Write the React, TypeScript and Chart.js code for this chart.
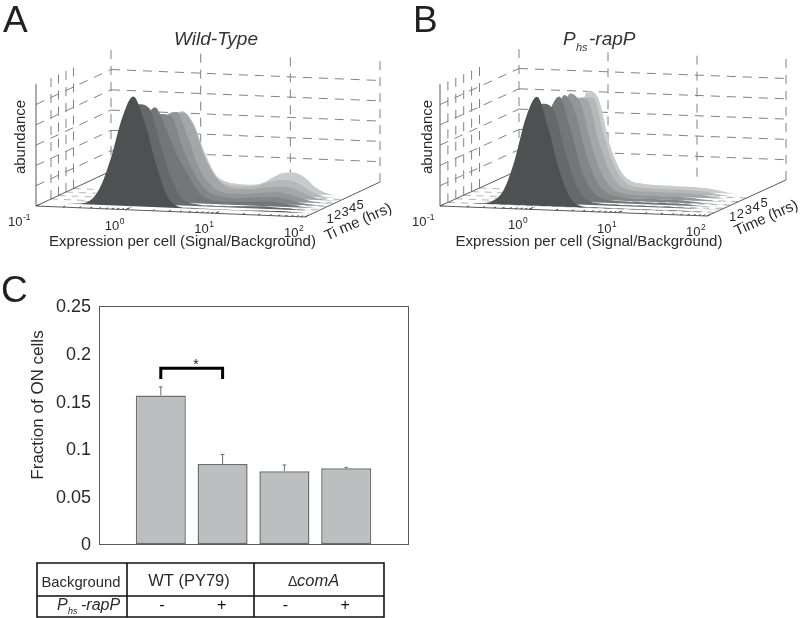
import React, { useEffect, useRef } from "react";
import { Chart, registerables } from "chart.js";

Chart.register(...registerables);

// ---- distributions: abundance at each log10(expression) ----
const LOG_E = [-0.75, -0.625, -0.5, -0.375, -0.25, -0.125, 0, 0.125, 0.25, 0.375, 0.5, 0.625, 0.75, 0.875, 1, 1.125, 1.25, 1.375, 1.5, 1.625, 1.75, 1.875, 2];

const A1 = [0, 0.02, 0.13, 0.8, 2.3, 4.3, 5.4, 4.2, 2.2, 0.6, 0.08, 0.03, 0.02, 0.02, 0.02, 0.02, 0.03, 0.04, 0.05, 0.05, 0.04, 0.02, 0];
const A2 = [0, 0.01, 0.07, 0.5, 1.6, 3.3, 4.9, 4.7, 2.9, 1.2, 0.3, 0.1, 0.05, 0.05, 0.06, 0.08, 0.1, 0.12, 0.1, 0.08, 0.04, 0.01, 0];
const A3 = [0, 0, 0.03, 0.2, 0.9, 2.2, 3.8, 4.65, 3.6, 2.3, 1.35, 0.5, 0.2, 0.15, 0.15, 0.17, 0.2, 0.22, 0.2, 0.13, 0.06, 0.02, 0];
const A4 = [0, 0, 0.01, 0.1, 0.5, 1.5, 3, 4.2, 4.1, 2.6, 1.4, 0.6, 0.3, 0.22, 0.22, 0.25, 0.3, 0.33, 0.3, 0.18, 0.07, 0.02, 0];
const A5 = [0, 0, 0, 0.05, 0.3, 1, 2.4, 3.9, 4.2, 3, 1.5, 0.7, 0.35, 0.3, 0.3, 0.36, 0.42, 0.45, 0.38, 0.22, 0.08, 0.02, 0];
const A6 = [0, 0, 0, 0.04, 0.2, 0.7, 2, 3.6, 4.05, 3.4, 1.9, 0.9, 0.45, 0.38, 0.38, 0.48, 0.55, 0.58, 0.48, 0.25, 0.08, 0.02, 0];
const A7 = [0, 0, 0, 0.03, 0.25, 1.1, 2.7, 3.8, 3.7, 2.5, 1.1, 0.55, 0.4, 0.38, 0.42, 0.6, 0.75, 0.78, 0.6, 0.28, 0.08, 0.01, 0];
const A8 = [0, 0, 0, 0.05, 0.3, 1.5, 3.2, 3.85, 3.3, 1.9, 0.8, 0.45, 0.37, 0.35, 0.42, 0.72, 1, 1.05, 0.8, 0.33, 0.08, 0, 0];

const B1 = [0, 0.03, 0.15, 0.7, 2.2, 4.3, 5.37, 3.9, 1.8, 0.45, 0.06, 0.03, 0.02, 0.02, 0.02, 0.02, 0.02, 0.02, 0.02, 0.02, 0.01, 0, 0];
const B2 = [0, 0.01, 0.08, 0.4, 1.4, 3.2, 4.9, 4.6, 2.7, 1, 0.25, 0.1, 0.07, 0.06, 0.06, 0.06, 0.06, 0.06, 0.05, 0.04, 0.02, 0, 0];
const B3 = [0, 0, 0.04, 0.2, 0.9, 2.4, 4.2, 5.15, 3.6, 1.6, 0.55, 0.2, 0.12, 0.1, 0.1, 0.1, 0.1, 0.1, 0.09, 0.06, 0.02, 0, 0];
const B4 = [0, 0, 0.02, 0.12, 0.6, 1.8, 3.7, 5.1, 4.2, 2.1, 0.8, 0.3, 0.17, 0.14, 0.14, 0.14, 0.14, 0.13, 0.11, 0.07, 0.02, 0, 0];
const B5 = [0, 0, 0, 0.08, 0.4, 1.4, 3.2, 5.05, 4.5, 2.4, 1, 0.38, 0.2, 0.18, 0.17, 0.17, 0.17, 0.16, 0.13, 0.08, 0.02, 0, 0];
const B6 = [0, 0, 0, 0.05, 0.3, 1.1, 2.8, 4.7, 4.6, 2.6, 1.1, 0.42, 0.24, 0.21, 0.2, 0.2, 0.2, 0.19, 0.16, 0.09, 0.02, 0, 0];
const B7 = [0, 0, 0, 0.03, 0.22, 0.9, 2.5, 4.6, 4.6, 2.7, 1.15, 0.45, 0.27, 0.24, 0.23, 0.23, 0.22, 0.21, 0.18, 0.1, 0.02, 0, 0];
const B8 = [0, 0, 0, 0.02, 0.15, 0.7, 2.3, 4.8, 4.4, 2.2, 0.9, 0.42, 0.32, 0.28, 0.27, 0.26, 0.25, 0.24, 0.2, 0.11, 0.02, 0, 0];

const SLICE_HOURS = [1, 1.7, 2.4, 3.1, 3.8, 4.6, 5.3, 6];
const SLICE_COLORS = ["#4f5052", "#66686a", "#737577", "#838587", "#939597", "#a4a6a8", "#b5b7b9", "#c9cacc"];

// ---- axes of the 3D panels ----
const X_TICKS = [-1, 0, 1, 2];
const X_MINOR = [2, 3, 4, 5, 6, 7, 8, 9];
const FLOOR_X = [0];
const Z_LEVELS = [1, 2, 3, 4, 5];
const Z_TOP = 6;
const T_MAX = 10;
const TIME_LABELS = [1, 2, 3, 4, 5];
const WALL_HOURS_A = [2, 3, 4, 5];
const WALL_HOURS_B = [1, 2, 3, 4, 5];

// ---- bars ----
const BAR_X = [1, 2, 3, 4];
const BAR_VALUES = [0.156, 0.084, 0.0765, 0.0795];
const BAR_ERR_TOPS = [0.165, 0.094, 0.083, 0.0805];
const BRACKET_X = [1, 2];
const BRACKET_Y = [0.1734, 0.1846];
const BG_ROW = ["WT (PY79)"];
const RAP_SIGNS = ["-", "+", "-", "+"];

const INK = "#2b2a2b";
const FONT = '"Liberation Sans", Arial, sans-serif';

type Panel = {
  ox: number; oy: number; dec: number; slope: number; zu: number; tx: number; ty: number; w: number; h: number;
  slices: number[][]; wall: number[];
  draw: (ctx: CanvasRenderingContext2D, chart: any, at: (l: number, t: number, a: number) => [number, number]) => void;
};

function text(ctx: CanvasRenderingContext2D, s: string, x: number, y: number, font: string, align: CanvasTextAlign = "left", color = INK) {
  ctx.font = font;
  ctx.textAlign = align;
  ctx.fillStyle = color;
  ctx.textBaseline = "alphabetic";
  ctx.fillText(s, x, y);
}

function rotText(ctx: CanvasRenderingContext2D, s: string, x: number, y: number, deg: number, font: string) {
  ctx.save();
  ctx.translate(x, y);
  ctx.rotate((deg * Math.PI) / 180);
  text(ctx, s, 0, 0, font, "center");
  ctx.restore();
}

function build3D(canvas: HTMLCanvasElement, p: Panel) {
  // projected units: horizontal in decades, vertical in abundance units
  const tx = p.tx / T_MAX / p.dec;
  const ty = p.ty / T_MAX / p.zu;
  const sl = p.slope / p.zu;
  const pt = (l: number, t: number, a: number) => ({ x: l + t * tx, y: a - (l + 1) * sl + t * ty });
  const seg = (list: [number, number, number][][]) => {
    const out: any[] = [];
    list.forEach((s) => {
      s.forEach((q) => out.push(pt(q[0], q[1], q[2])));
      out.push({ x: null, y: null });
    });
    return out;
  };
  const dashedWall: [number, number, number][][] = [];
  X_TICKS.forEach((l) => dashedWall.push([[l, T_MAX, 0], [l, T_MAX, Z_TOP]]));
  Z_LEVELS.forEach((z) => dashedWall.push([[-1, T_MAX, z], [2, T_MAX, z]]));
  Z_LEVELS.forEach((z) => dashedWall.push([[-1, 0, z], [-1, T_MAX, z]]));
  p.wall.forEach((t) => dashedWall.push([[-1, t, 0], [-1, t, Z_TOP]]));
  const floor: [number, number, number][][] = [];
  p.wall.forEach((t) => floor.push([[-1, t, 0], [2, t, 0]]));
  FLOOR_X.forEach((l) => floor.push([[l, 0, 0], [l, T_MAX, 0]]));
  const solid: [number, number, number][][] = [
    [[-1, 0, 0], [2, 0, 0]],
    [[2, 0, 0], [2, T_MAX, 0]],
    [[-1, 0, 0], [-1, 0, Z_TOP]],
    [[-1, 0, 0], [-1, T_MAX, 0]],
  ];
  const ticks: [number, number, number][][] = [];
  [-1, 0, 1].forEach((d) => {
    ticks.push([[d, 0, 0], [d, 0.5, 0]]);
    X_MINOR.forEach((m) => {
      const l = d + Math.log10(m);
      ticks.push([[l, 0, 0], [l, 0.3, 0]]);
    });
  });
  ticks.push([[2, 0, 0], [2, 0.5, 0]]);
  const line = (data: any[], color: string, width: number, dash: number[] = []) => ({
    data, showLine: true, borderColor: color, borderWidth: width, borderDash: dash, pointRadius: 0, fill: false,
  });
  const xMin = -1 - p.ox / p.dec;
  const yMax = p.oy / p.zu;
  const chart = new Chart(canvas, {
    type: "scatter",
    data: {
      datasets: [
        line(seg(solid), "#5a5a5c", 1),
        line(seg(ticks), "#3a3a3c", 1),
        ...p.slices.map((vals, i) => ({
          data: vals.map((a, k) => pt(LOG_E[k], SLICE_HOURS[i], a)),
          showLine: true,
          borderWidth: 0,
          pointRadius: 0,
          cubicInterpolationMode: "monotone",
          backgroundColor: SLICE_COLORS[i],
          fill: "shape",
        })),
        line(seg(floor), "#b5b6b8", 1, [7, 6]),
        line(seg(dashedWall), "#808183", 1, [9, 7]),
      ],
    } as any,
    options: {
      responsive: false,
      animation: false,
      layout: { padding: 0 },
      plugins: { legend: { display: false }, tooltip: { enabled: false } },
      scales: {
        x: { type: "linear", display: false, min: xMin, max: xMin + p.w / p.dec },
        y: { type: "linear", display: false, max: yMax, min: yMax - p.h / p.zu },
      },
    },
    plugins: [
      {
        id: "labels3d",
        afterDraw(c: any) {
          const at = (l: number, t: number, a: number): [number, number] => {
            const q = pt(l, t, a);
            return [c.scales.x.getPixelForValue(q.x), c.scales.y.getPixelForValue(q.y)];
          };
          const ctx = c.ctx;
          ctx.save();
          X_TICKS.forEach((l) => {
            const [x, y] = at(l, 0, 0);
            const lx = x + (l === -1 ? -28 : -21);
            const ly = y + 20;
            text(ctx, "10", lx, ly, `13px ${FONT}`);
            const w = ctx.measureText("10").width;
            text(ctx, String(l), lx + w + 0.5, ly - 6, `8.5px ${FONT}`);
          });
          TIME_LABELS.forEach((t) => {
            const [x, y] = at(2, t, 0);
            text(ctx, String(t), x + 14, y + 9, `13px ${FONT}`);
          });
          p.draw(ctx, c, at);
          ctx.restore();
        },
      },
    ],
  });
  return chart;
}

function buildBars(canvas: HTMLCanvasElement) {
  const errs: any[] = [];
  BAR_X.forEach((x, i) => {
    errs.push({ x, y: BAR_VALUES[i] }, { x, y: BAR_ERR_TOPS[i] }, { x: null, y: null });
    errs.push({ x: x - 0.03, y: BAR_ERR_TOPS[i] }, { x: x + 0.03, y: BAR_ERR_TOPS[i] }, { x: null, y: null });
  });
  return new Chart(canvas, {
    data: {
      datasets: [
        {
          type: "line",
          data: [
            { x: BRACKET_X[0], y: BRACKET_Y[0] },
            { x: BRACKET_X[0], y: BRACKET_Y[1] },
            { x: BRACKET_X[1], y: BRACKET_Y[1] },
            { x: BRACKET_X[1], y: BRACKET_Y[0] },
          ],
          borderColor: "#000",
          borderWidth: 3,
          pointRadius: 0,
          tension: 0,
          borderJoinStyle: "miter",
        },
        { type: "line", data: errs, borderColor: "#6a6b6d", borderWidth: 1, pointRadius: 0, tension: 0 },
        {
          type: "bar",
          data: BAR_X.map((x, i) => ({ x, y: BAR_VALUES[i] })),
          backgroundColor: "#bcbec0",
          borderColor: "#6d6e70",
          borderWidth: 1.5,
          borderSkipped: false,
          barPercentage: 0.81,
          categoryPercentage: 1,
        },
      ],
    } as any,
    options: {
      responsive: false,
      animation: false,
      layout: { padding: { left: 28, top: 36, right: 12, bottom: 74 } },
      plugins: { legend: { display: false }, tooltip: { enabled: false } },
      scales: {
        x: { type: "linear", display: false, min: 0, max: 5, offset: false },
        y: {
          type: "linear",
          min: 0,
          max: 0.25,
          afterFit(s: any) {
            s.width = 71;
          },
          border: { display: false },
          grid: { display: false, drawTicks: false },
          ticks: {
            stepSize: 0.05,
            padding: 8,
            labelOffset: 1.5,
            color: INK,
            font: { family: FONT, size: 18 },
            callback: (v: any) => String(+(+v).toFixed(2)),
          },
        },
      },
    },
    plugins: [
      {
        id: "tableAndFrame",
        afterDraw(c: any) {
          const ctx = c.ctx;
          const a = c.chartArea;
          ctx.save();
          ctx.strokeStyle = "#58585a";
          ctx.lineWidth = 1;
          ctx.strokeRect(a.left + 0.5, a.top + 0.5, a.right - a.left, a.bottom - a.top);
          const sx = c.scales.x;
          const sy = c.scales.y;
          text(ctx, "*", sx.getPixelForValue(1.57), sy.getPixelForValue(0.184), `14px ${FONT}`, "center", "#222");
          rotText(ctx, "Fraction of ON cells", 43, 135, -90, `17px ${FONT}`);
          // table
          const L = 37, R = 384, T = 293, M = 326, Bt = 347, D1 = 127, D2 = 254;
          ctx.strokeStyle = "#111";
          ctx.lineWidth = 1.6;
          ctx.beginPath();
          ctx.rect(L, T, R - L, Bt - T);
          ctx.moveTo(L, M); ctx.lineTo(R, M);
          ctx.moveTo(D1, T); ctx.lineTo(D1, Bt);
          ctx.moveTo(D2, T); ctx.lineTo(D2, Bt);
          ctx.stroke();
          text(ctx, "Background", 41.5, 317, `14.8px ${FONT}`);
          text(ctx, BG_ROW[0], 189, 316, `16.5px ${FONT}`, "center");
          text(ctx, "\u0394", 288, 316, `14px ${FONT}`);
          text(ctx, "comA", 297, 316, `italic 16.5px ${FONT}`);
          text(ctx, "P", 57, 340, `italic 16px ${FONT}`);
          text(ctx, "hs", 68, 344, `italic 9px ${FONT}`);
          text(ctx, "-rapP", 81, 340, `italic 16px ${FONT}`);
          RAP_SIGNS.forEach((s, i) => {
            text(ctx, s, sx.getPixelForValue(BAR_X[i]) + (i % 2 ? -1 : 1), 340, `16px ${FONT}`, "center", "#111");
          });
          text(ctx, "C", 1, 32, `37px ${FONT}`, "left", "#231f20");
          ctx.restore();
        },
      },
    ],
  } as any);
}

const PANEL_A: Panel = {
  ox: 36, oy: 206, dec: 89.67, slope: 3.67, zu: 20.3, tx: 75, ty: 35, w: 400, h: 260,
  slices: [A1, A2, A3, A4, A5, A6, A7, A8],
  wall: WALL_HOURS_A,
  draw(ctx) {
    text(ctx, "A", 3, 32, `37px ${FONT}`, "left", "#231f20");
    text(ctx, "Wild-Type", 216, 45, `italic 19px ${FONT}`, "center", "#333");
    rotText(ctx, "abundance", 25, 137, -90, `15px ${FONT}`);
    text(ctx, "Expression per cell (Signal/Background)", 182.5, 246, `15px ${FONT}`, "center");
    rotText(ctx, "Ti me (hrs)", 360, 226, -24, `15px ${FONT}`);
  },
};

const PANEL_B: Panel = {
  ox: 40, oy: 206, dec: 89, slope: 3.33, zu: 20.3, tx: 79, ty: 36, w: 400, h: 260,
  slices: [B1, B2, B3, B4, B5, B6, B7, B8],
  wall: WALL_HOURS_B,
  draw(ctx) {
    text(ctx, "B", 13, 32, `37px ${FONT}`, "left", "#231f20");
    text(ctx, "P", 163, 45, `italic 19px ${FONT}`, "left", "#333");
    text(ctx, "hs", 176, 51, `italic 11px ${FONT}`, "left", "#333");
    text(ctx, "-rapP", 189, 45, `italic 19px ${FONT}`, "left", "#333");
    rotText(ctx, "abundance", 32, 137, -90, `15px ${FONT}`);
    text(ctx, "Expression per cell (Signal/Background)", 189, 246, `15px ${FONT}`, "center");
    rotText(ctx, "Time (hrs)", 368, 222, -24, `15px ${FONT}`);
  },
};

export default function App() {
  const a = useRef<HTMLCanvasElement>(null);
  const b = useRef<HTMLCanvasElement>(null);
  const c = useRef<HTMLCanvasElement>(null);
  useEffect(() => {
    const charts = [build3D(a.current!, PANEL_A), build3D(b.current!, PANEL_B), buildBars(c.current!)];
    return () => charts.forEach((ch) => ch.destroy());
  }, []);
  const abs = (left: number, top: number): React.CSSProperties => ({ position: "absolute", left, top, display: "block" });
  return (
    <div style={{ position: "fixed", left: 0, top: 0, width: 800, height: 618, background: "#fff", overflow: "hidden" }}>
      <canvas ref={a} width={400} height={260} style={abs(0, 0)} />
      <canvas ref={b} width={400} height={260} style={abs(400, 0)} />
      <canvas ref={c} width={420} height={348} style={abs(0, 270)} />
    </div>
  );
}
